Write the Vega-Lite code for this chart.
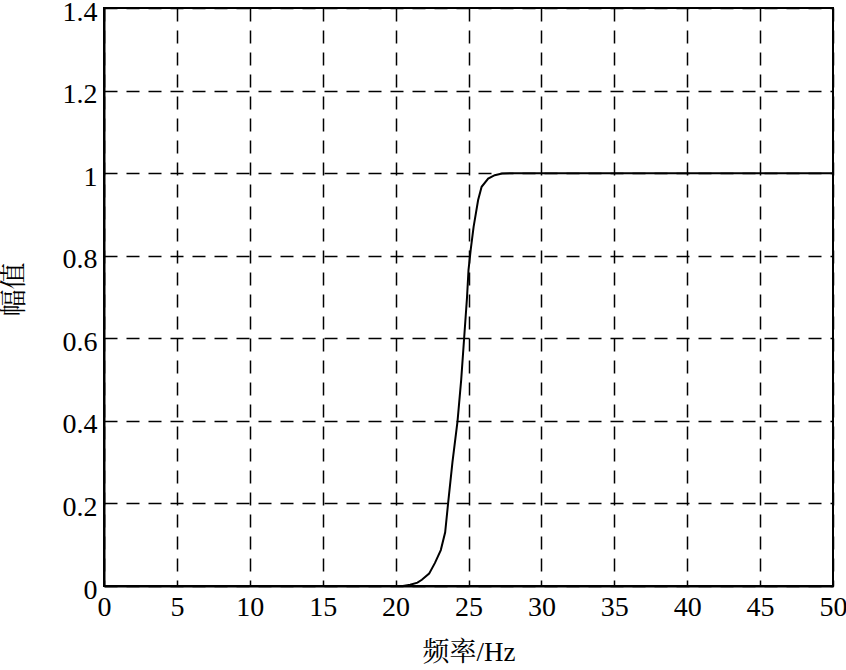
{
  "$schema": "https://vega.github.io/schema/vega-lite/v6.json",
  "autosize": "none",
  "width": 729,
  "height": 578,
  "padding": {"left": 104, "top": 8, "right": 13, "bottom": 84},
  "background": "white",
  "config": {
    "view": {"stroke": "black", "strokeWidth": 2},
    "axis": {
      "labelFont": "Liberation Serif",
      "labelFontSize": 28,
      "labelColor": "black",
      "labelFlush": false,
      "titleFont": "Liberation Serif, Noto Serif CJK SC, Noto Sans CJK SC",
      "titleFontSize": 27,
      "titleFontWeight": "normal",
      "titleColor": "black",
      "domainColor": "black",
      "domainWidth": 2,
      "ticks": false,
      "grid": true,
      "gridColor": "black",
      "gridOpacity": 1,
      "gridWidth": 1.5,
      "gridDash": [13, 9]
    }
  },
  "data": {
    "values": [
      {"f": 0, "a": 0},
      {"f": 20.5, "a": 0},
      {"f": 21.0, "a": 0.003},
      {"f": 21.5, "a": 0.008},
      {"f": 21.8, "a": 0.015},
      {"f": 22.3, "a": 0.03},
      {"f": 22.7, "a": 0.056},
      {"f": 23.1, "a": 0.087},
      {"f": 23.4, "a": 0.13},
      {"f": 23.6, "a": 0.2},
      {"f": 23.9, "a": 0.3},
      {"f": 24.25, "a": 0.4},
      {"f": 24.5, "a": 0.5},
      {"f": 24.7, "a": 0.6},
      {"f": 24.9, "a": 0.7},
      {"f": 25.0, "a": 0.765},
      {"f": 25.15, "a": 0.814},
      {"f": 25.35, "a": 0.87},
      {"f": 25.66, "a": 0.935},
      {"f": 25.9, "a": 0.967},
      {"f": 26.35, "a": 0.987},
      {"f": 26.8, "a": 0.995},
      {"f": 27.3, "a": 0.999},
      {"f": 28, "a": 1},
      {"f": 50, "a": 1}
    ]
  },
  "mark": {"type": "line", "color": "black", "strokeWidth": 2, "clip": true},
  "encoding": {
    "x": {
      "field": "f",
      "type": "quantitative",
      "scale": {"domain": [0, 50], "nice": false},
      "axis": {
        "title": "频率/Hz",
        "values": [0, 5, 10, 15, 20, 25, 30, 35, 40, 45, 50],
        "labelPadding": 7,
        "titlePadding": 18
      }
    },
    "y": {
      "field": "a",
      "type": "quantitative",
      "scale": {"domain": [0, 1.4], "nice": false},
      "axis": {
        "title": "幅值",
        "values": [0, 0.2, 0.4, 0.6, 0.8, 1, 1.2, 1.4],
        "format": ".1~f",
        "labelPadding": 7,
        "labelOffset": 4,
        "titlePadding": 34,
        "titleY": 281
      }
    }
  }
}
